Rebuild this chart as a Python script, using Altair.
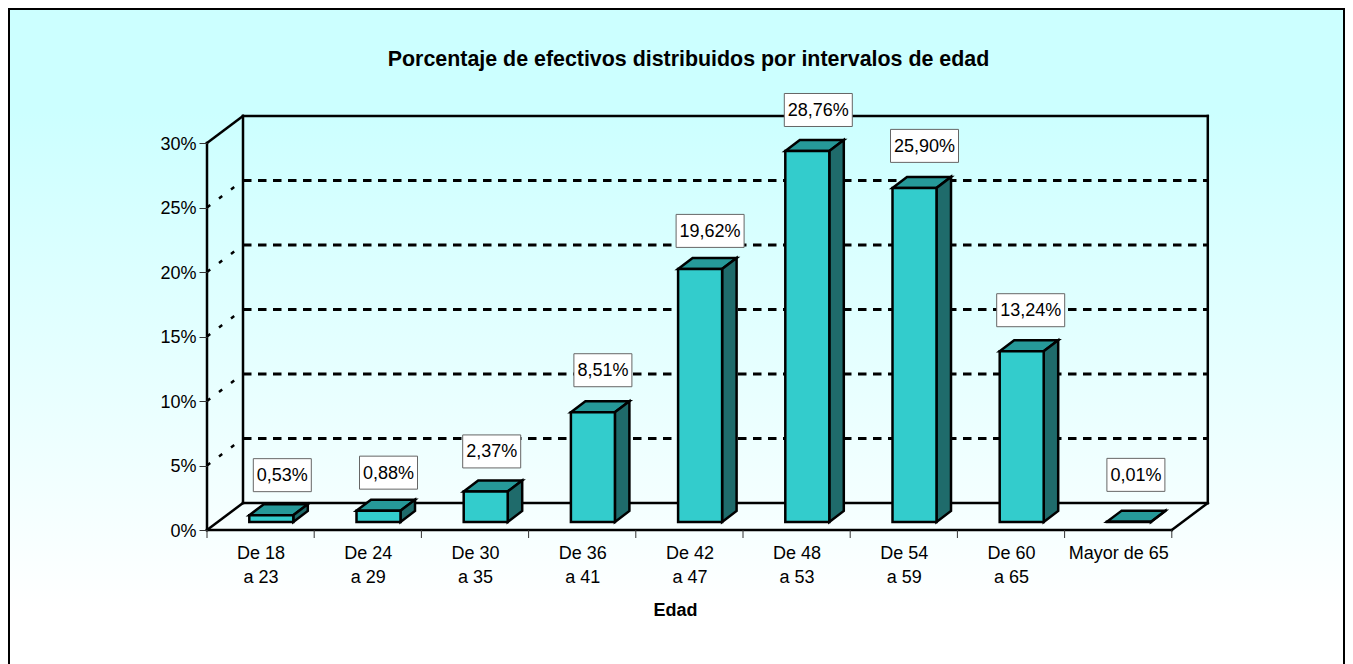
import json
import altair as alt
import pandas as pd

categories = ["De 18|a 23", "De 24|a 29", "De 30|a 35", "De 36|a 41", "De 42|a 47",
              "De 48|a 53", "De 54|a 59", "De 60|a 65", "Mayor de 65"]
values = [0.53, 0.88, 2.37, 8.51, 19.62, 28.76, 25.90, 13.24, 0.01]
labels = ["0,53%", "0,88%", "2,37%", "8,51%", "19,62%", "28,76%", "25,90%", "13,24%", "0,01%"]
label_nudge_x = [1, 0, -4, 0, 0, 1, 0, -1, -3]
label_nudge_y = [-1, -3, -1, 1, -3, 0, 1, 0, 6]

FONT = "Liberation Sans"
W, H = 1337, 656
PX_X, PX_Y = 107.2, 12.9      # pixels per category, pixels per percent
X0, Y0 = 199, 522             # where the front-left origin falls in the view
ux = lambda px: px / PX_X     # pixel lengths to data units
uy = lambda px: px / PX_Y
DX, DY = ux(36), uy(27)       # depth of the floor
BX, BY = ux(14.5), uy(11)     # depth of a bar
SHIFT_X, SHIFT_Y = ux(10.7), uy(8)
HALF = ux(22)
N = len(values)

label_js = json.dumps(categories)
axis_x = alt.Axis(
    title="Edad", orient="bottom", offset=-(H - Y0), values=[i + 0.5 for i in range(N)], grid=False, domain=False,
    zindex=1, ticks=False, labelFont=FONT, labelFontSize=18, labelColor="black", labelPadding=14, labelLineHeight=24,
    labelOverlap=False, labelFlush=False, labelBaseline="top",
    labelExpr=f"split({label_js}[floor(datum.value)], '|')",
    titleFont=FONT, titleFontSize=18, titleFontWeight="bold", titleColor="black",
    titleX=667, titleY=80, titleBaseline="middle")
axis_y = alt.Axis(
    title=None, orient="left", offset=-X0, values=[0, 5, 10, 15, 20, 25, 30], grid=False, domain=False, zindex=1,
    tickColor="#333333", tickSize=8, tickWidth=1, labelFont=FONT, labelFontSize=18, labelColor="black",
    labelPadding=3, labelOffset=1, labelExpr="datum.value + '%'", labelOverlap=False, labelFlush=False)

xs = alt.Scale(domain=[ux(-X0), ux(W - X0)], nice=False, zero=False)
ys = alt.Scale(domain=[uy(Y0 - H), uy(Y0)], nice=False, zero=False)
X = lambda f="x": alt.X(f"{f}:Q", scale=xs, axis=axis_x)
Y = lambda f="y": alt.Y(f"{f}:Q", scale=ys, axis=axis_y, stack=None)

# frame with its vertical gradient
frame = pd.DataFrame([dict(x=ux(-X0 + 1), x2=ux(W - X0 - 1), y=uy(Y0 - 1), y2=uy(Y0 - H - 30))])
bg = alt.Chart(frame).mark_rect(
    color=alt.LinearGradient(gradient="linear", x1=0, y1=0, x2=0, y2=1, stops=[
        alt.GradientStop(color="#ccffff", offset=0),
        alt.GradientStop(color="#ccffff", offset=0.15),
        alt.GradientStop(color="#ffffff", offset=0.88),
        alt.GradientStop(color="#ffffff", offset=1)]),
    stroke="black", strokeWidth=2,
).encode(x=X(), x2="x2", y=Y(), y2="y2")

# walls and floor
def segs(items):
    rows = []
    for i, ((a, b), (c, d)) in enumerate(items):
        rows += [dict(g=i, o=0, x=a, y=b), dict(g=i, o=1, x=c, y=d)]
    return pd.DataFrame(rows)

back = alt.Chart(segs([
    ((0, 0), (0, 30)), ((0, 30), (DX, 30 + DY)), ((DX, DY), (DX, 30 + DY)),
    ((DX, 30 + DY), (N + DX, 30 + DY)), ((N + DX, DY), (N + DX, 30 + DY)),
    ((DX, DY), (N + DX, DY)), ((0, 0), (DX, DY)), ((N, 0), (N + DX, DY)),
    ((0, 0), (N, 0)),
])).mark_line(color="black", strokeWidth=2.5, strokeCap="square").encode(
    x=X(), y=Y(), detail="g:N", order="o:Q")

grid_levels = [5, 10, 15, 20, 25]
grid_back = alt.Chart(segs([((DX, v + DY), (N + DX, v + DY)) for v in grid_levels])).mark_line(
    color="black", strokeWidth=3, strokeDash=[8.5, 6.5]).encode(
    x=X(), y=Y(), detail="g:N", order="o:Q")
grid_left = alt.Chart(segs([((0, v), (DX, v + DY)) for v in grid_levels])).mark_line(
    color="black", strokeWidth=2.5, strokeDash=[4, 11]).encode(
    x=X(), y=Y(), detail="g:N", order="o:Q")

# the bars: one set of three faces per value
front_rows, side_rows, top_rows = [], [], []
for i, v in enumerate(values):
    l = i + 0.5 + SHIFT_X - HALF
    r = i + 0.5 + SHIFT_X + HALF
    b = SHIFT_Y
    t = SHIFT_Y + v
    front_rows.append(dict(x=l, x2=r, y=b, y2=t))
    side_rows += [dict(g=i, x=r, y=b, y2=t), dict(g=i, x=r + BX, y=b + BY, y2=t + BY)]
    top_rows += [dict(g=i, y=t, x=l, x2=r), dict(g=i, y=t + BY, x=l + BX, x2=r + BX)]

top = alt.Chart(pd.DataFrame(top_rows)).mark_area(
    orient="horizontal", color="#269999", stroke="black", strokeWidth=2.5, strokeJoin="miter", opacity=1
).encode(y=Y(), x=X(), x2="x2", detail="g:N")
side = alt.Chart(pd.DataFrame(side_rows)).mark_area(
    orient="vertical", color="#1f6b6b", stroke="black", strokeWidth=2.5, strokeJoin="miter", opacity=1
).encode(x=X(), y=Y(), y2="y2", detail="g:N")
front = alt.Chart(pd.DataFrame(front_rows)).mark_rect(
    color="#33cccc", stroke="black", strokeWidth=2.5
).encode(x=X(), x2="x2", y=Y(), y2="y2")

# category ticks
tick = alt.Chart(segs([((i, 0), (i, -uy(8))) for i in range(N + 1)])).mark_line(
    color="#333333", strokeWidth=1).encode(x=X(), y=Y(), detail="g:N", order="o:Q")

# value labels in white boxes
box_rows = []
for i, (v, s) in enumerate(zip(values, labels)):
    cx = i + 0.5 + SHIFT_X + ux(10 + label_nudge_x[i])
    cy = SHIFT_Y + v + uy(41 + label_nudge_y[i])
    hw = ux(34 if len(s) > 5 else 29)
    box_rows.append(dict(x=cx, xa=cx - hw, xb=cx + hw, y=cy, ya=cy - uy(16.5), yb=cy + uy(16.5), t=s))
box_df = pd.DataFrame(box_rows)
boxes = alt.Chart(box_df).mark_rect(color="white", stroke="#666666", strokeWidth=1).encode(
    x=X("xa"), x2="xb", y=Y("ya"), y2="yb")
texts = alt.Chart(box_df).mark_text(font=FONT, fontSize=18, color="black", baseline="middle", align="center", dy=1).encode(
    x=X(), y=Y(), text="t:N")

chart = alt.layer(
    bg, back, grid_back, grid_left, tick, top, side, front, boxes, texts
).properties(
    width=W, height=H, padding=0,
    autosize=alt.AutoSizeParams(type="none"),
    title=alt.TitleParams("Porcentaje de efectivos distribuidos por intervalos de edad",
                          font=FONT, fontSize=21.4, fontWeight="bold", color="black",
                          anchor="middle", frame="group", dx=12, offset=-83, baseline="bottom"),
).configure_view(stroke=None)

chart.save("out.html", embed_options={"renderer": "svg", "actions": False})
